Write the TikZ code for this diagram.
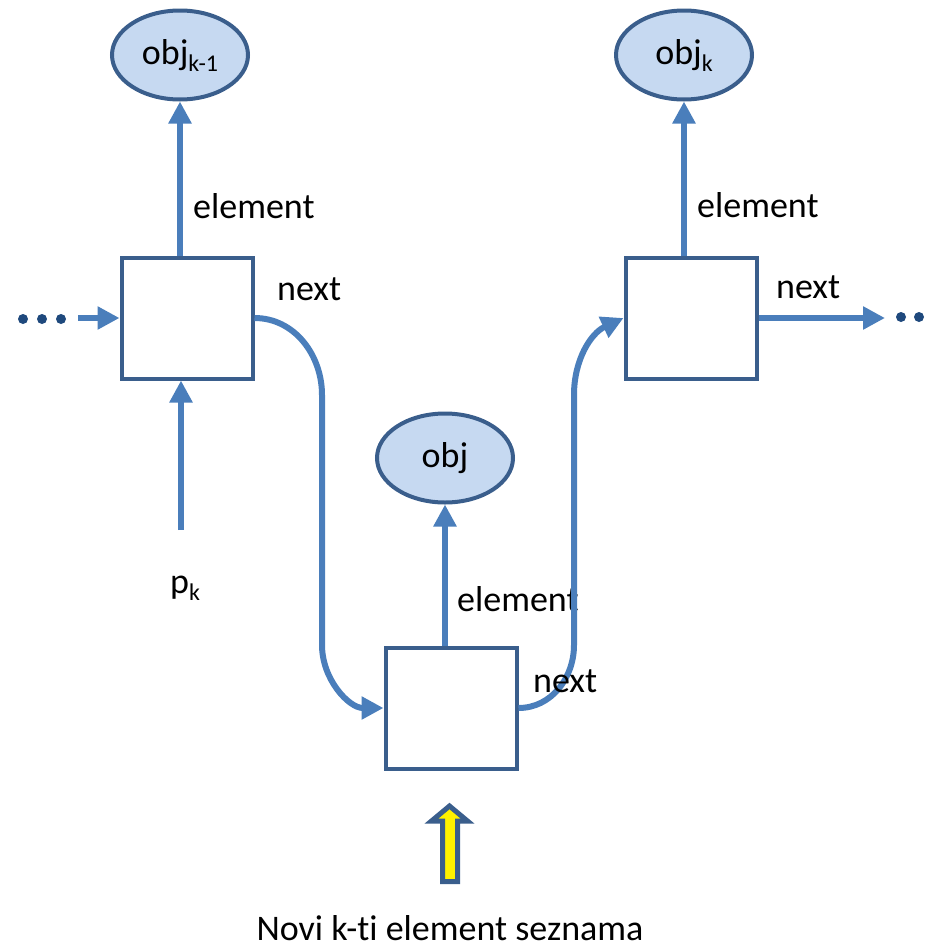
\documentclass[tikz,border=0pt]{standalone}
\usepackage{fontspec}
\setmainfont{Carlito}[Ligatures=NoCommon]
\usepackage{tikz}
\usetikzlibrary{shapes,arrows.meta,positioning,calc}

\definecolor{linkblue}{HTML}{4A7EBB}
\definecolor{boxblue}{HTML}{3A5E8C}
\definecolor{objfill}{HTML}{C6D9F1}
\definecolor{dotblue}{HTML}{1F497D}

% indeks pod crto
\newcommand{\idx}[1]{\raisebox{-7pt}{\fontsize{24}{26}\selectfont #1}}

\tikzset{
    objnode/.style={ellipse, draw=boxblue, fill=objfill, line width=4pt,
        minimum width=136pt, minimum height=89pt, inner sep=0pt},
    elembox/.style={rectangle, draw=boxblue, fill=white, line width=4pt,
        minimum width=131pt, minimum height=121pt},
    link/.style={draw=linkblue, line width=6pt, -{Triangle[length=22pt,width=22pt]}},
    lbl/.style={inner sep=0pt, anchor=base west},
    newarrow/.style={draw=boxblue, fill=yellow, line width=5pt, line join=miter}
}

\begin{document}
\begin{tikzpicture}[x=1pt, y=1pt, font=\fontsize{36}{40}\selectfont]
    \useasboundingbox (0,0) rectangle (931,-948);
    \clip (0,0) rectangle (931,-948);

    % objekti
    \node[objnode] (objprev) at (180,-55) {obj\idx{k-1}};
    \node[objnode] (objk) at (684,-55) {obj\idx{k}};
    \node[objnode] (objnew) at (445,-458) {obj};

    % elementi seznama
    \node[elembox] (prev) at (187,-318) {};
    \node[elembox] (cur) at (691,-318) {};
    \node[elembox] (new) at (451,-708) {};

    % element -> obj
    \draw[link] (objprev.south |- prev.north) -- (objprev.south);
    \draw[link] (objk.south |- cur.north) -- (objk.south);
    \draw[link] (objnew.south |- new.north) -- (objnew.south);
    \node[lbl] at (193,-218) {element};
    \node[lbl] at (697,-217) {element};
    \node[lbl] at (457,-611) {element};

    % next kazalci
    \coordinate (inL) at (78,-318);
    \coordinate (outR) at (885,-318);
    \draw[link] (inL) -- (prev.west);
    \draw[link] (cur.east) -- (outR);
    \draw[link] (prev.east) to[out=0,in=90] (322,-395) -- (322,-645)
        to[out=-90,in=180] (new.west);
    \draw[link] (new.east) to[out=0,in=-90] (574,-645) -- (574,-395)
        to[out=90,in=205] (cur.west);
    \node[lbl] at (277,-300) {next};
    \node[lbl] at (776,-298) {next};
    \node[lbl] at (533,-692) {next};

    \foreach \x in {23,42,61} \fill[dotblue] (\x,-319) circle (5pt);
    \foreach \x in {901,919,937} \fill[dotblue] (\x,-317) circle (5pt);

    % kazalec p_k
    \coordinate (pkstart) at (181,-530);
    \draw[link] (pkstart) -- (pkstart |- prev.south);
    \node[lbl] (pk) at (170,-593) {p\idx{k}};

    % novi element
    \draw[newarrow] (442.5,-881.5) -- (442.5,-821) -- (431.5,-821) -- (449.5,-806)
        -- (467.5,-821) -- (457.5,-821) -- (457.5,-881.5) -- cycle;
    \node[inner sep=0pt, anchor=base] (caption) at (450,-940) {Novi k-ti element seznama};
\end{tikzpicture}
\end{document}
